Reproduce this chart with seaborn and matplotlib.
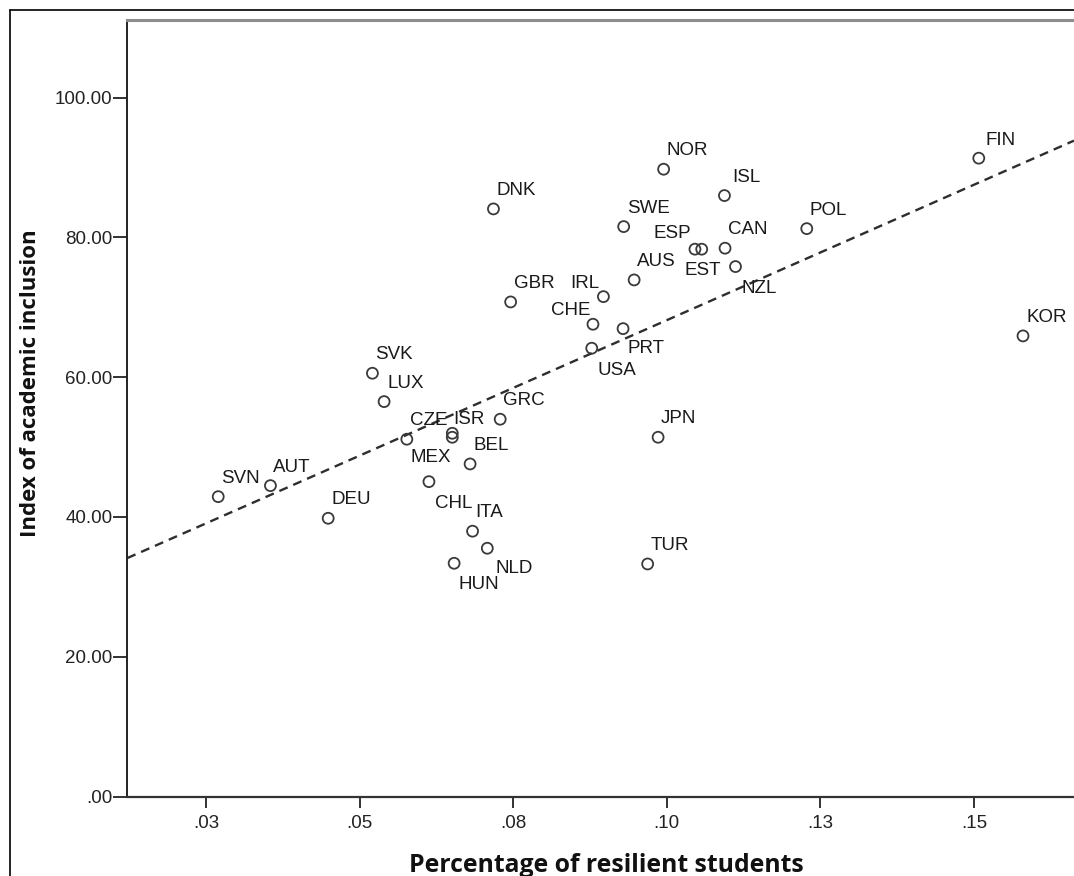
import matplotlib
matplotlib.use("Agg")
import matplotlib.pyplot as plt
from matplotlib.lines import Line2D
import numpy as np
import pandas as pd
import seaborn as sns

# === Данные ===
countries = ["SVN", "AUT", "DEU", "SVK", "LUX", "CZE", "ISR", "MEX", "GRC", "BEL",
             "CHL", "ITA", "NLD", "HUN", "NOR", "ISL", "DNK", "SWE", "POL", "ESP",
             "EST", "CAN", "NZL", "AUS", "GBR", "IRL", "CHE", "PRT", "USA", "JPN",
             "TUR", "FIN", "KOR"]
resilient = [0.0270, 0.0355, 0.0449, 0.0521, 0.0540, 0.0577, 0.0651, 0.0651, 0.0729, 0.0680,
             0.0613, 0.0684, 0.0708, 0.0654, 0.0995, 0.1094, 0.0718, 0.0930, 0.1228, 0.1046,
             0.1057, 0.1095, 0.1112, 0.0947, 0.0746, 0.0897, 0.0880, 0.0929, 0.0878, 0.0986,
             0.0969, 0.1508, 0.1580]
inclusion = [42.90, 44.48, 39.81, 60.56, 56.50, 51.12, 51.97, 51.40, 53.98, 47.58,
             45.05, 37.96, 35.52, 33.37, 89.75, 85.98, 84.07, 81.54, 81.25, 78.31,
             78.31, 78.45, 75.82, 73.91, 70.76, 71.52, 67.57, 66.94, 64.14, 51.40,
             33.27, 91.33, 65.90]

x_ticks = [0.025, 0.05, 0.075, 0.10, 0.125, 0.15]
x_tick_labels = [".03", ".05", ".08", ".10", ".13", ".15"]
y_ticks = [0, 20, 40, 60, 80, 100]
y_tick_labels = [".00", "20.00", "40.00", "60.00", "80.00", "100.00"]

df = pd.DataFrame({"country": countries, "x": resilient, "y": inclusion})

# смещения подписей (в пикселях) там, где SPSS поставил их не справа сверху
label_offsets = {
    "ISR": (1, 9), "MEX": (-42, -25), "CHL": (6, -26), "NLD": (8, -25),
    "HUN": (4, -26), "ISL": (8, 14), "ESP": (-41, 11), "EST": (-17, -26),
    "NZL": (6, -26), "IRL": (-33, 9), "CHE": (-42, 9), "PRT": (4, -24),
    "USA": (6, -27), "FIN": (7, 13),
}

sns.set_style("white")
plt.rcParams["font.family"] = ["Liberation Sans", "DejaVu Sans"]

W, H = 1074, 876
fig = plt.figure(figsize=(W / 100, H / 100), dpi=100)
ax = fig.add_axes([127.3 / W, 1 - 796.5 / H, (W - 127.3) / W, (796.5 - 20) / H])

xlim = (0.0122, 0.1663)
ax.set_xlim(*xlim)
ax.set_ylim(0, 111.1)

# линия регрессии
sns.regplot(data=df, x="x", y="y", scatter=False, ci=None, truncate=False, ax=ax,
            line_kws={"color": "#2e2e2e", "lw": 1.7, "linestyle": (0, (3.8, 2.6))})

sns.scatterplot(data=df, x="x", y="y", ax=ax, s=62, marker="o",
                facecolors="none", edgecolor="#3a3a3a", linewidth=1.3, zorder=3)

for c, xv, yv in zip(countries, resilient, inclusion):
    dx, dy = label_offsets.get(c, (3, 14))
    ax.annotate(c, (xv, yv), xytext=(dx, dy), textcoords="offset pixels",
                ha="left", va="baseline", fontsize=13.5, color="#1a1a1a")

ax.set_xlim(*xlim)
ax.set_ylim(0, 111.1)
ax.set_xticks(x_ticks)
ax.set_xticklabels(x_tick_labels)
ax.set_yticks(y_ticks)
ax.set_yticklabels(y_tick_labels)
ax.tick_params(axis="x", direction="out", length=8, width=1.3, pad=5,
               labelsize=13.5, colors="#222222", bottom=True)
ax.tick_params(axis="y", direction="out", length=10, width=1.3, pad=0.5,
               labelsize=13.5, colors="#222222", left=True)
ax.set_xlabel("")
ax.set_ylabel("")

for side in ["left", "bottom", "top"]:
    ax.spines[side].set_visible(True)
ax.spines["right"].set_visible(False)
ax.spines["left"].set_color("#222222")
ax.spines["left"].set_linewidth(1.4)
ax.spines["bottom"].set_color("#333333")
ax.spines["bottom"].set_linewidth(1.6)
ax.spines["top"].set_color("#8c8c8c")
ax.spines["top"].set_linewidth(2.2)

# подписи осей
fig.text(606 / W, 1 - 871.5 / H, "Percentage of resilient students", ha="center",
         va="baseline", fontsize=17.8, fontweight="bold", family="Open Sans",
         color="#111111")
fig.text(31 / W, 1 - 383 / H, "Index of academic inclusion", ha="center",
         va="center", rotation=90, fontsize=16, fontweight="bold", family="Open Sans",
         color="#111111")

# внешняя рамка (левая и верхняя стороны)
fig.add_artist(Line2D([10 / W, 10 / W], [0, 1 - 10 / H], transform=fig.transFigure,
                      color="black", lw=1.2))
fig.add_artist(Line2D([10 / W, 1], [1 - 10 / H, 1 - 10 / H], transform=fig.transFigure,
                      color="black", lw=1.2))

fig.savefig("out.png", dpi=100)
